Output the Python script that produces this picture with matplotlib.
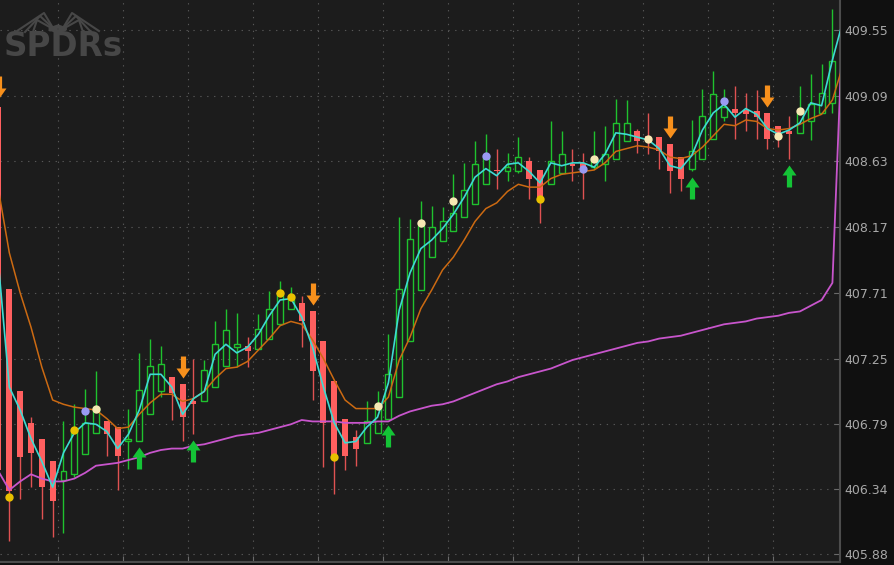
import numpy as np
import matplotlib
matplotlib.use('Agg')
import matplotlib.pyplot as plt
from matplotlib.path import Path
from matplotlib.lines import Line2D

# 1-min OHLC bars
opens = [409.01, 407.74, 407.02, 406.80, 406.69, 406.53, 406.40, 406.44, 406.58, 406.73,
         406.81, 406.77, 406.67, 406.67, 406.86, 407.02, 407.12, 407.07, 406.95, 406.95,
         407.05, 407.20, 407.33, 407.34, 407.32, 407.39, 407.49, 407.60, 407.64, 407.58,
         407.37, 407.09, 406.83, 406.70, 406.66, 406.73, 406.83, 406.98, 407.37, 407.73,
         407.96, 408.07, 408.14, 408.24, 408.33, 408.47, 408.57, 408.56, 408.56, 408.63,
         408.57, 408.47, 408.55, 408.61, 408.62, 408.59, 408.61, 408.65, 408.77, 408.84,
         408.81, 408.80, 408.75, 408.66, 408.58, 408.65, 408.79, 408.94, 409.00, 408.99,
         408.98, 408.97, 408.88, 408.84, 408.83, 408.91, 408.97, 409.04]
highs = [409.03, 407.74, 407.02, 406.84, 406.69, 406.53, 406.81, 406.93, 407.04, 407.16,
         406.81, 406.77, 406.90, 407.29, 407.39, 407.34, 407.12, 407.07, 407.25, 407.24,
         407.51, 407.60, 407.57, 407.40, 407.56, 407.72, 407.79, 407.75, 407.69, 407.58,
         407.37, 407.09, 406.83, 406.75, 406.95, 407.02, 407.42, 408.24, 408.23, 408.35,
         408.32, 408.31, 408.54, 408.62, 408.77, 408.82, 408.72, 408.69, 408.80, 408.66,
         408.57, 408.91, 408.84, 408.72, 408.69, 408.84, 408.88, 409.07, 409.06, 408.86,
         408.97, 408.80, 408.75, 408.66, 408.92, 409.14, 409.26, 409.14, 409.16, 409.11,
         409.13, 408.97, 408.88, 408.95, 409.16, 409.24, 409.31, 409.70]
lows = [406.09, 405.97, 406.27, 406.35, 406.13, 406.00, 406.03, 406.42, 406.58, 406.73,
        406.57, 406.33, 406.48, 406.67, 406.86, 406.98, 406.82, 406.67, 406.72, 406.95,
        407.05, 407.20, 407.19, 407.19, 407.32, 407.39, 407.49, 407.60, 407.33, 406.96,
        406.49, 406.30, 406.47, 406.50, 406.66, 406.73, 406.83, 406.98, 407.37, 407.73,
        407.96, 408.07, 408.14, 408.24, 408.33, 408.47, 408.44, 408.49, 408.55, 408.37,
        408.20, 408.47, 408.55, 408.49, 408.37, 408.58, 408.49, 408.65, 408.77, 408.69,
        408.68, 408.58, 408.41, 408.42, 408.56, 408.65, 408.79, 408.91, 408.79, 408.84,
        408.79, 408.72, 408.73, 408.65, 408.83, 408.78, 408.97, 408.97]
closes = [406.47, 406.32, 406.56, 406.59, 406.35, 406.25, 406.46, 406.74, 406.80, 406.91,
          406.72, 406.57, 406.69, 407.03, 407.20, 407.21, 407.01, 406.84, 406.93, 407.17,
          407.35, 407.45, 407.35, 407.30, 407.46, 407.60, 407.70, 407.67, 407.51, 407.16,
          406.80, 406.56, 406.57, 406.62, 406.81, 406.93, 407.14, 407.74, 408.09, 408.18,
          408.17, 408.21, 408.27, 408.43, 408.61, 408.66, 408.56, 408.59, 408.66, 408.51,
          408.38, 408.63, 408.68, 408.60, 408.59, 408.64, 408.68, 408.90, 408.90, 408.77,
          408.77, 408.70, 408.56, 408.51, 408.70, 408.95, 409.10, 409.01, 408.97, 408.96,
          408.94, 408.79, 408.80, 408.82, 408.97, 409.03, 409.11, 409.33]

# studies (one more point than bars, runs into the price axis)
fast_avg = [407.91, 407.05, 406.89, 406.69, 406.53, 406.35, 406.59, 406.73, 406.80, 406.79,
            406.74, 406.62, 406.72, 406.89, 407.14, 407.14, 407.05, 406.86, 406.97, 407.02,
            407.28, 407.35, 407.29, 407.33, 407.42, 407.55, 407.66, 407.67, 407.54, 407.33,
            407.05, 406.80, 406.66, 406.67, 406.77, 406.84, 407.08, 407.59, 407.85, 408.02,
            408.08, 408.16, 408.26, 408.38, 408.52, 408.58, 408.53, 408.61, 408.62, 408.56,
            408.48, 408.62, 408.60, 408.62, 408.62, 408.59, 408.68, 408.83, 408.82, 408.80,
            408.78, 408.72, 408.60, 408.58, 408.67, 408.85, 408.97, 409.03, 408.94, 409.00,
            408.96, 408.86, 408.82, 408.85, 408.90, 409.04, 409.02, 409.34, 409.62]
slow_avg = [408.43, 407.99, 407.71, 407.47, 407.19, 406.96, 406.93, 406.91, 406.90, 406.89,
            406.83, 406.76, 406.77, 406.86, 406.94, 407.00, 407.00, 406.95, 406.97, 407.02,
            407.11, 407.18, 407.19, 407.23, 407.31, 407.39, 407.48, 407.51, 407.49, 407.38,
            407.25, 407.10, 406.96, 406.90, 406.90, 406.90, 406.98, 407.24, 407.40, 407.60,
            407.73, 407.87, 407.96, 408.08, 408.21, 408.30, 408.34, 408.42, 408.47, 408.45,
            408.45, 408.51, 408.54, 408.55, 408.56, 408.57, 408.62, 408.70, 408.72, 408.74,
            408.73, 408.71, 408.66, 408.65, 408.67, 408.73, 408.81, 408.89, 408.88, 408.92,
            408.91, 408.86, 408.85, 408.86, 408.89, 408.93, 408.96, 409.06, 409.31]
trend_line = [406.46, 406.33, 406.39, 406.44, 406.41, 406.39, 406.39, 406.41, 406.45, 406.50,
              406.51, 406.52, 406.54, 406.56, 406.59, 406.61, 406.62, 406.62, 406.64, 406.65,
              406.67, 406.69, 406.71, 406.72, 406.73, 406.75, 406.77, 406.79, 406.82, 406.81,
              406.81, 406.81, 406.80, 406.80, 406.80, 406.81, 406.81, 406.85, 406.88, 406.90,
              406.92, 406.93, 406.95, 406.98, 407.01, 407.04, 407.07, 407.09, 407.12, 407.14,
              407.16, 407.18, 407.21, 407.24, 407.26, 407.28, 407.30, 407.32, 407.34, 407.36,
              407.37, 407.39, 407.40, 407.41, 407.43, 407.45, 407.47, 407.49, 407.50, 407.51,
              407.53, 407.54, 407.55, 407.57, 407.58, 407.62, 407.66, 407.78, 409.70]

# signal dots
gold_idx = [1, 7, 26, 27, 31, 50]
gold_px = [406.28, 406.75, 407.71, 407.68, 406.56, 408.37]
lilac_idx = [8, 45, 54, 67]
lilac_px = [406.88, 408.67, 408.58, 409.05]
cream_idx = [9, 35, 39, 42, 55, 60, 72, 74]
cream_px = [406.90, 406.92, 408.20, 408.35, 408.65, 408.79, 408.81, 408.98]

# buy / sell arrows
sell_idx = [0, 17, 29, 62, 71]
buy_idx = [13, 18, 36, 64, 73]

price_ticks = [405.88, 406.34, 406.79, 407.25, 407.71, 408.17, 408.63, 409.09, 409.55]

RED = '#ff5f5f'
RED_WICK = '#e05252'
GREEN = '#1fc22e'

o = np.array(opens)
h = np.array(highs)
l = np.array(lows)
c = np.array(closes)
x = np.arange(len(c))
up = c >= o
dn = ~up

fig = plt.figure(figsize=(8.95, 5.65), dpi=100, facecolor='#101010')
ax = fig.add_axes([0, 3 / 565, 840 / 895, 562 / 565])
ax.set_facecolor('#1c1c1c')

w = 0.55
# down bars: solid
ax.vlines(x[dn], l[dn], h[dn], color=RED_WICK, lw=1.0, zorder=2)
ax.bar(x[dn], np.maximum(o - c, 0.012)[dn], bottom=c[dn], width=w,
       color=RED, lw=0, zorder=3)
# up bars: hollow, wick stops at the body
ax.vlines(x[up], c[up], h[up], color=GREEN, lw=1.0, zorder=2)
ax.vlines(x[up], l[up], o[up], color=GREEN, lw=1.0, zorder=2)
ax.bar(x[up], np.maximum(c - o, 0.012)[up], bottom=o[up], width=w,
       facecolor='none', edgecolor=GREEN, lw=1.0, zorder=3)

xs = np.arange(len(trend_line))
ax.plot(xs, trend_line, color='#c855cc', lw=1.3, zorder=4)
ax.plot(xs, slow_avg, color='#cc6a12', lw=1.1, zorder=4)
ax.plot(xs, fast_avg, color='#3ddbd2', lw=1.2, zorder=5)

ax.plot(gold_idx, gold_px, 'o', ms=6, color='#e8c000', mew=0, zorder=6)
ax.plot(lilac_idx, lilac_px, 'o', ms=6, color='#9a9af2', mew=0, zorder=6)
ax.plot(cream_idx, cream_px, 'o', ms=6, color='#f6e8b4', mew=0, zorder=6)

# block arrows, tip a few px off the bar
sell_arrow = Path([(0, 6), (7, 16), (2.6, 16), (2.6, 28), (-2.6, 28),
                   (-2.6, 16), (-7, 16), (0, 6)], closed=True)
buy_arrow = Path([(0, -6), (7, -16), (2.6, -16), (2.6, -28), (-2.6, -28),
                  (-2.6, -16), (-7, -16), (0, -6)], closed=True)
ax.plot(sell_idx, h[sell_idx], ls='none', marker=sell_arrow, ms=40.3,
        color='#f7901c', mew=0, zorder=7)
ax.plot(buy_idx, l[buy_idx], ls='none', marker=buy_arrow, ms=40.3,
        color='#14c336', mew=0, zorder=7)

ax.set_xlim(0.1385, 77.70)
ax.set_ylim(405.826, 409.76)

ax.set_yticks(price_ticks)
ax.set_yticklabels([f'{t:.2f}' for t in price_ticks])
ax.set_xticks(np.arange(5.5, 77, 6))
ax.set_xticklabels([])
ax.yaxis.tick_right()
ax.grid(True, color='#575757', linestyle=(0, (1.2, 5)), lw=0.8)
ax.set_axisbelow(True)
ax.tick_params(axis='y', direction='in', length=4, color='#6a6a6a',
               labelcolor='#a8a8a8', labelsize=9, pad=3)
ax.tick_params(axis='x', direction='in', length=4, color='#6a6a6a')
for side in ('left', 'top'):
    ax.spines[side].set_visible(False)
for side in ('right', 'bottom'):
    ax.spines[side].set_color('#4c4c4c')
    ax.spines[side].set_linewidth(1.5)

# watermark logo
W, H = 895, 565
def fx(px):
    return px / W
def fy(py):
    return 1 - py / H

logo = '#474747'
fig.text(fx(4), fy(47), 'SPDRs', color=logo, fontsize=23.5, fontweight='bold',
         va='center', ha='left', family='DejaVu Sans')
body = [(51, 29), (58, 26.5), (65, 29), (58, 31.5), (51, 29)]
fig.add_artist(Line2D([fx(p[0]) for p in body], [fy(p[1]) for p in body],
                      color=logo, lw=3))
for legs in ([(53, 28), (44, 13), (17, 31)], [(54, 29), (40, 16), (25, 32)],
             [(55, 30), (37, 20), (33, 32)],
             [(63, 28), (72, 13), (99, 31)], [(62, 29), (76, 16), (91, 32)],
             [(61, 30), (79, 20), (83, 32)]):
    fig.add_artist(Line2D([fx(p[0]) for p in legs], [fy(p[1]) for p in legs],
                          color=logo, lw=1.5))

fig.savefig('out.png', dpi=100, facecolor=fig.get_facecolor())
